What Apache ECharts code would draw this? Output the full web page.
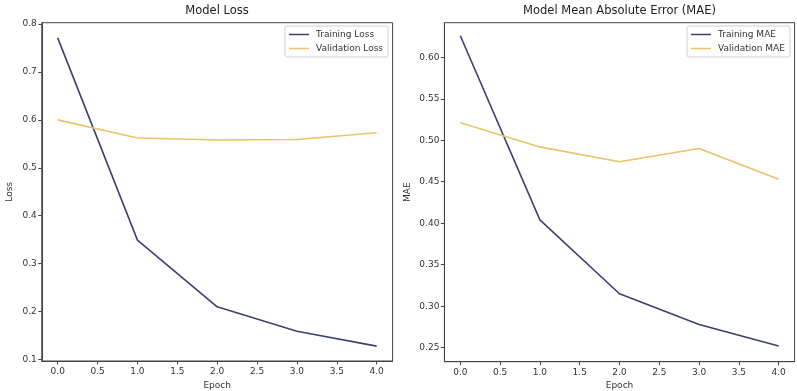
<!DOCTYPE html>
<html>
<head>
<meta charset="utf-8">
<script src="https://cdn.jsdelivr.net/npm/echarts@6/dist/echarts.min.js"></script>
<style>html,body{margin:0;padding:0;background:#fff}#c{width:797px;height:391px}</style>
</head>
<body>
<div id="c"></div>
<script>
const epochs = [0, 1, 2, 3, 4];
const trainLoss = [0.771, 0.349, 0.210, 0.159, 0.128];
const valLoss = [0.600, 0.562, 0.558, 0.559, 0.573];
const trainMAE = [0.626, 0.404, 0.315, 0.278, 0.252];
const valMAE = [0.521, 0.492, 0.474, 0.490, 0.453];
const xTicks = [0, 0.5, 1, 1.5, 2, 2.5, 3, 3.5, 4];
const lossTicks = [0.1, 0.2, 0.3, 0.4, 0.5, 0.6, 0.7, 0.8];
const maeTicks = [0.25, 0.30, 0.35, 0.40, 0.45, 0.50, 0.55, 0.60];

const FONT = 'DejaVu Sans';
const TXT = '#333';
const AX = '#444';
const C_TRAIN = '#3d3f75';
const C_VAL = '#e9c46a';

function pairs(ys) { return epochs.map((e, i) => [e, ys[i]]); }

function xAxis(gi) {
  return {
    type: 'value', gridIndex: gi, min: -0.2, max: 4.2,
    name: 'Epoch', nameLocation: 'middle', nameGap: 19,
    nameTextStyle: { fontFamily: FONT, fontSize: 9, color: TXT },
    axisLine: { show: true, onZero: false, lineStyle: { color: AX, width: 1 } },
    axisTick: { show: true, length: 3.5, customValues: xTicks, lineStyle: { color: AX } },
    axisLabel: { customValues: xTicks, margin: 6, fontFamily: FONT, fontSize: 9, color: TXT,
      formatter: v => v.toFixed(1) },
    splitLine: { show: false }
  };
}
function yAxis(gi, name, min, max, ticks, dec, gap) {
  return {
    type: 'value', gridIndex: gi, min: min, max: max,
    name: name, nameLocation: 'middle', nameGap: gap,
    nameTextStyle: { fontFamily: FONT, fontSize: 9, color: TXT },
    axisLine: { show: true, onZero: false, lineStyle: { color: AX, width: 1 } },
    axisTick: { show: true, length: 3.5, customValues: ticks, lineStyle: { color: AX } },
    axisLabel: { customValues: ticks, margin: 5, fontFamily: FONT, fontSize: 9, color: TXT,
      formatter: v => v.toFixed(dec) },
    splitLine: { show: false }
  };
}
function legend(left, names) {
  return {
    data: names, orient: 'vertical', left: left, top: 26,
    icon: 'rect', itemWidth: 20, itemHeight: 1.5, itemGap: 5,
    padding: [4, 5, 4, 4],
    borderColor: '#d0d0d0', borderWidth: 1, borderRadius: 2,
    backgroundColor: 'rgba(255,255,255,0.85)',
    textStyle: { fontFamily: FONT, fontSize: 9, color: TXT, padding: [0, 0, 0, 2] }
  };
}
function line(name, data, color, gi) {
  return {
    type: 'line', name: name, data: pairs(data), xAxisIndex: gi, yAxisIndex: gi,
    showSymbol: false, symbol: 'none', smooth: false,
    lineStyle: { color: color, width: 1.6 }, itemStyle: { color: color },
    emphasis: { disabled: true }, animation: false
  };
}

const chart = echarts.init(document.getElementById('c'), null, { renderer: 'canvas' });
chart.setOption({
  backgroundColor: '#fff',
  animation: false,
  title: [
    { text: 'Model Loss', left: 217, top: 5, padding: 0, textAlign: 'center',
      textStyle: { fontFamily: FONT, fontSize: 11.5, fontWeight: 'normal', color: '#222' } },
    { text: 'Model Mean Absolute Error (MAE)', left: 619.5, top: 5, padding: 0, textAlign: 'center',
      textStyle: { fontFamily: FONT, fontSize: 11.5, fontWeight: 'normal', color: '#222' } }
  ],
  legend: [
    legend(285, ['Training Loss', 'Validation Loss']),
    legend(687, ['Training MAE', 'Validation MAE'])
  ],
  grid: [
    { left: 41.75, right: 404.4, top: 22.7, bottom: 30, outerBoundsMode: 'none', containLabel: false,
      show: true, borderColor: AX, borderWidth: 1, backgroundColor: 'transparent' },
    { left: 444.4, right: 2.4, top: 22.7, bottom: 29.3, outerBoundsMode: 'none', containLabel: false,
      show: true, borderColor: AX, borderWidth: 1, backgroundColor: 'transparent' }
  ],
  xAxis: [xAxis(0), xAxis(1)],
  yAxis: [
    yAxis(0, 'Loss', 0.0969, 0.8027, lossTicks, 1, 28),
    yAxis(1, 'MAE', 0.2331, 0.6417, maeTicks, 2, 32)
  ],
  series: [
    line('Training Loss', trainLoss, C_TRAIN, 0),
    line('Validation Loss', valLoss, C_VAL, 0),
    line('Training MAE', trainMAE, C_TRAIN, 1),
    line('Validation MAE', valMAE, C_VAL, 1)
  ]
});
</script>
</body>
</html>
